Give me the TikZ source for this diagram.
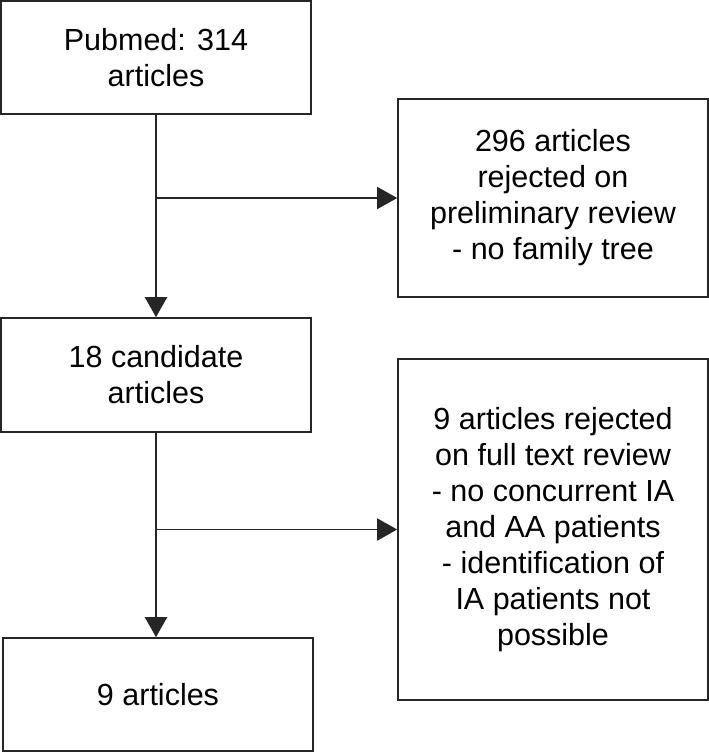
\documentclass[tikz,border=0pt]{standalone}
\usepackage{fontspec}
\setmainfont{Liberation Sans}
\usetikzlibrary{arrows.meta}
\begin{document}
\begin{tikzpicture}[x=1pt,y=-1pt,
  box/.style={draw=black!85,line width=1.6pt,minimum width=310pt,inner sep=0pt,align=center,
    font=\fontsize{30.5}{36}\selectfont},
  conn/.style={draw=black!85,line width=1.6pt},
  arr/.style={conn,-{Triangle[width=22pt,length=20pt]}}]
\useasboundingbox (0,0) rectangle (709,752);
\node[box,minimum height=113pt] (b1) at (156,57.5) {Pubmed: 314\\articles};
\node[box,minimum height=198pt] (b2) at (553,198) {296 articles\\rejected on\\preliminary review\\- no family tree};
\node[box,minimum height=114pt] (b3) at (156,375) {18 candidate\\articles};
\node[box,minimum height=341pt] (b4) at (553,529.5) {9 articles rejected\\on full text review\\- no concurrent IA\\and AA patients\\- identification of\\IA patients not\\possible};
\node[box,minimum height=113pt] (b5) at (158,694.5) {9 articles};
\coordinate (c1) at (b1.south |- b2.west);
\coordinate (c2) at (b3.south |- b4.west);
\draw[arr] (b1.south) -- (b3.north);
\draw[arr] (c1) -- (b2.west);
\draw[arr] (b3.south) -- (b3.south |- b5.north);
\draw[arr] (c2) -- (b4.west);
\end{tikzpicture}
\end{document}
